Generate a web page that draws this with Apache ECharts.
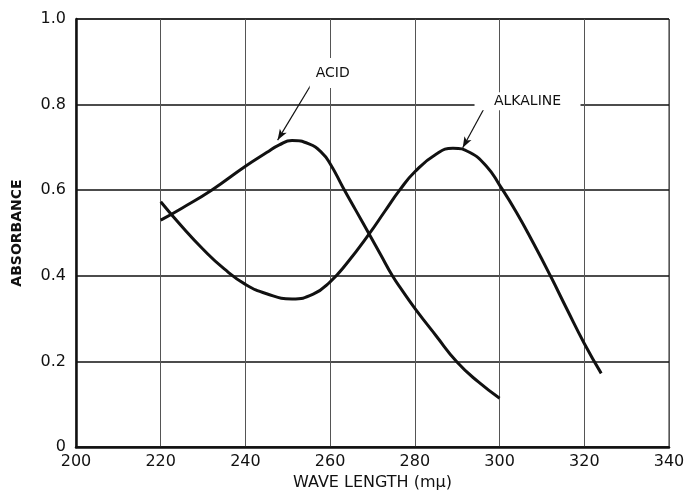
<!DOCTYPE html>
<html>
<head>
<meta charset="utf-8">
<script src="https://cdn.jsdelivr.net/npm/echarts@6/dist/echarts.min.js"></script>
<style>
  html, body { margin: 0; padding: 0; background: #fff; }
  #chart { width: 688px; height: 490px; }
</style>
</head>
<body>
<div id="chart"></div>
<script>
// 吸收光谱 (酸性 / 碱性)
const acidCurve = [
  [220, 0.530], [225, 0.558], [232, 0.600], [240, 0.656], [245, 0.688],
  [248, 0.706], [251, 0.716], [255, 0.708], [258, 0.688], [260, 0.662],
  [263, 0.607], [266, 0.554], [269.3, 0.496], [272, 0.448], [274.7, 0.400],
  [277, 0.366], [280, 0.324], [285, 0.260], [290, 0.198], [295, 0.152],
  [300, 0.114]
];
const alkalineCurve = [
  [220, 0.573], [225, 0.515], [230, 0.462], [235, 0.416], [240, 0.380],
  [245, 0.358], [251, 0.346], [256, 0.357], [260, 0.386], [264, 0.430],
  [269.3, 0.499], [273, 0.552], [276.4, 0.600], [280, 0.643], [285, 0.684],
  [289, 0.698], [293, 0.688], [297, 0.655], [300, 0.612], [304, 0.548],
  [308, 0.476], [312, 0.400], [316, 0.320], [320, 0.242], [324, 0.172]
];
// 标注: 文字位置, 箭头起点, 箭头终点
const acidNote = { text: "ACID", at: [260.6, 0.874], from: [255.7, 0.850], to: [247.6, 0.717] };
const alkalineNote = { text: "ALKALINE", at: [306.6, 0.808], from: [296.5, 0.794], to: [291.3, 0.699] };

const xRange = [200, 340, 20];
const yRange = [0, 1, 0.2];

const font = "DejaVu Sans";

function note(n, w, h) {
  return {
    silent: true,
    markPoint: {
      symbol: "rect",
      symbolSize: [w, h],
      itemStyle: { color: "#fff" },
      label: { show: true, position: "inside", color: "#111", fontFamily: font, fontSize: 14, formatter: n.text },
      data: [{ coord: n.at }]
    },
    markLine: {
      symbol: ["none", "arrow"],
      symbolSize: [6, 11],
      lineStyle: { color: "#111", width: 1.2, type: "solid" },
      label: { show: false },
      data: [[{ coord: n.from }, { coord: n.to }]]
    }
  };
}

const chart = echarts.init(document.getElementById("chart"), null, { renderer: "canvas" });
const option = {
  animation: false,
  backgroundColor: "#fff",
  grid: {
    left: 76, right: 19, top: 19, bottom: 43,
    outerBoundsMode: "none",
    containLabel: false,
    show: true, borderColor: "#222", borderWidth: 1
  },
  xAxis: {
    type: "value",
    min: xRange[0], max: xRange[1], interval: xRange[2],
    axisLine: { show: true, onZero: false, lineStyle: { color: "#111", width: 2.5 } },
    axisTick: { show: false },
    axisLabel: { color: "#111", fontFamily: font, fontSize: 16, margin: 7 },
    splitLine: { show: true, lineStyle: { color: "#555", width: 1 } },
    name: "WAVE LENGTH (mμ)",
    nameLocation: "middle",
    nameGap: 28,
    nameTextStyle: { color: "#111", fontFamily: font, fontSize: 16 }
  },
  yAxis: {
    type: "value",
    min: yRange[0], max: yRange[1], interval: yRange[2],
    axisLine: { show: true, lineStyle: { color: "#111", width: 2.5 } },
    axisTick: { show: false },
    axisLabel: {
      color: "#111", fontFamily: font, fontSize: 16, margin: 10,
      formatter: v => (v === 0 ? "0" : v.toFixed(1))
    },
    splitLine: { show: true, lineStyle: { color: "#111", width: 1.5 } },
    name: "ABSORBANCE",
    nameLocation: "middle",
    nameGap: 52,
    nameTextStyle: { color: "#111", fontFamily: font, fontSize: 14, fontWeight: "bold" }
  },
  series: [
    Object.assign({
      name: "Acid",
      type: "line",
      data: acidCurve,
      smooth: 0.5,
      showSymbol: false,
      lineStyle: { color: "#111", width: 3 },
      z: 5
    }, note(acidNote, 46, 30)),
    Object.assign({
      name: "Alkaline",
      type: "line",
      data: alkalineCurve,
      smooth: 0.5,
      showSymbol: false,
      lineStyle: { color: "#111", width: 3 },
      z: 5
    }, note(alkalineNote, 106, 18))
  ]
};
chart.setOption(option);
</script>
</body>
</html>
